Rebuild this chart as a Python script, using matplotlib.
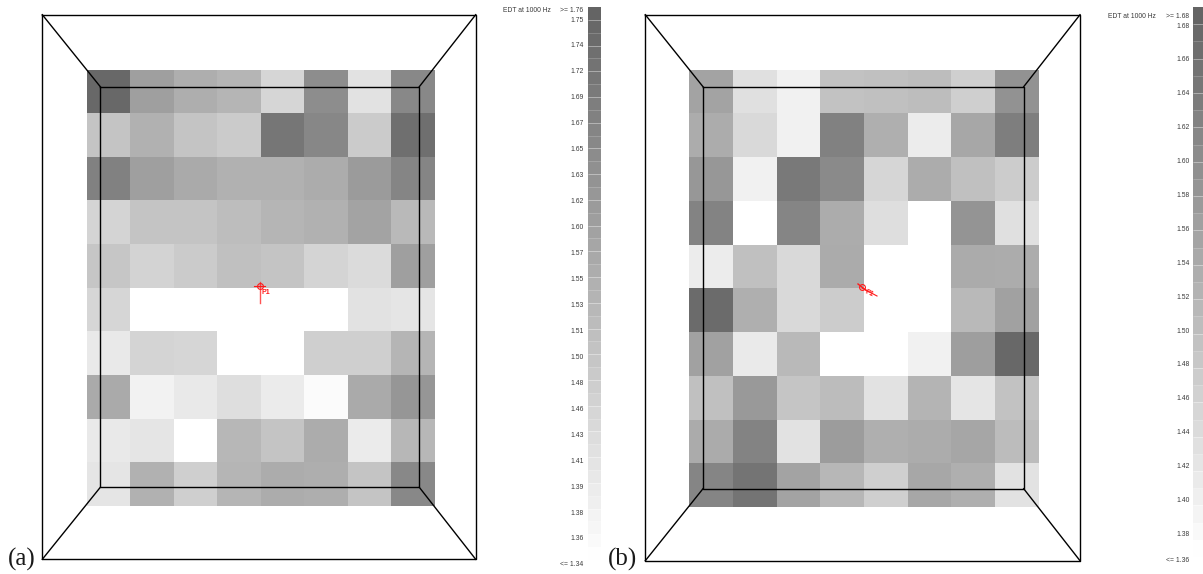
import numpy as np
import matplotlib
matplotlib.use("Agg")
import matplotlib.pyplot as plt
from matplotlib.colors import LinearSegmentedColormap, Normalize

W, H = 1203, 574

edt_a = [
    [1.75, 1.60, 1.56, 1.54, 1.45, 1.65, 1.42, 1.66],
    [1.50, 1.55, 1.50, 1.48, 1.71, 1.665, 1.48, 1.73],
    [1.68, 1.60, 1.57, 1.55, 1.55, 1.565, 1.61, 1.67],
    [1.455, 1.50, 1.50, 1.52, 1.54, 1.55, 1.59, 1.53],
    [1.495, 1.46, 1.48, 1.51, 1.50, 1.455, 1.44, 1.60],
    [1.45, 1.34, 1.34, 1.34, 1.34, 1.34, 1.42, 1.41],
    [1.40, 1.455, 1.45, 1.34, 1.34, 1.47, 1.47, 1.54],
    [1.57, 1.375, 1.40, 1.43, 1.395, 1.35, 1.57, 1.625],
    [1.40, 1.41, 1.34, 1.535, 1.50, 1.565, 1.395, 1.535],
    [1.41, 1.55, 1.47, 1.54, 1.565, 1.56, 1.50, 1.66],
]
edt_b = [
    [1.55, 1.425, 1.39, 1.485, 1.49, 1.495, 1.46, 1.585],
    [1.53, 1.44, 1.39, 1.62, 1.525, 1.40, 1.54, 1.625],
    [1.575, 1.39, 1.635, 1.60, 1.445, 1.53, 1.49, 1.465],
    [1.615, 1.36, 1.61, 1.53, 1.43, 1.36, 1.58, 1.425],
    [1.40, 1.49, 1.44, 1.535, 1.36, 1.36, 1.535, 1.53],
    [1.665, 1.525, 1.44, 1.465, 1.36, 1.36, 1.505, 1.555],
    [1.555, 1.405, 1.505, 1.36, 1.36, 1.39, 1.56, 1.67],
    [1.49, 1.57, 1.48, 1.50, 1.42, 1.515, 1.415, 1.485],
    [1.535, 1.615, 1.42, 1.565, 1.525, 1.53, 1.545, 1.50],
    [1.61, 1.645, 1.55, 1.51, 1.46, 1.54, 1.525, 1.42],
]
ticks_a = ["1.75", "1.74", "1.72", "1.69", "1.67", "1.65", "1.63", "1.62", "1.60", "1.57", "1.55",
           "1.53", "1.51", "1.50", "1.48", "1.46", "1.43", "1.41", "1.39", "1.38", "1.36"]
ticks_b = ["1.68", "1.66", "1.64", "1.62", "1.60", "1.58", "1.56", "1.54", "1.52", "1.50",
           "1.48", "1.46", "1.44", "1.42", "1.40", "1.38"]
range_a = (1.34, 1.76)
range_b = (1.36, 1.68)

cmap = LinearSegmentedColormap.from_list("edt", ["#ffffff", "#646464"])

fig = plt.figure(figsize=(W / 100, H / 100), dpi=100)
ax = fig.add_axes([0, 0, 1, 1])
ax.set_xlim(0, W)
ax.set_ylim(H, 0)
ax.axis("off")
FONT = "Liberation Sans"
LABEL_SIZE = 4.9


def room(outer, inner):
    (ol, or_, ot, ob), (il, ir, it, ib) = outer, inner
    kw = dict(color="black", lw=1.0, solid_capstyle="projecting", zorder=5)
    for l, r, t, b in (outer, inner):
        ax.plot([l, r, r, l, l], [t, t, b, b, t], **kw)
    for (x0, y0), (x1, y1) in [((ol, ot), (il, it)), ((or_, ot), (ir, it)),
                               ((ol, ob), (il, ib)), ((or_, ob), (ir, ib))]:
        ax.plot([x0, x1], [y0, y1], **kw)


def panel(values, vrange, heat, outer, inner):
    v = np.array(values)
    xe = np.linspace(heat[0], heat[1], v.shape[1] + 1)
    ye = np.linspace(heat[2], heat[3], v.shape[0] + 1)
    ax.pcolormesh(xe, ye, v, cmap=cmap, norm=Normalize(*vrange), zorder=2, antialiased=False)
    room(outer, inner)


def colorbar(vrange, ncells, x0, x1, y0, y1, labels, first_y, step, top_y, bottom_y, right, head_x):
    levels = np.linspace(vrange[1], vrange[0], ncells)[:, None]
    ye = np.linspace(y0, y1, ncells + 1)
    ax.pcolormesh([x0, x1], ye, levels, cmap=cmap,
                  norm=Normalize(vrange[0] - 0.01 * (vrange[1] - vrange[0]), vrange[1]),
                  zorder=2, antialiased=False)
    ax.hlines(ye[2:-1:2], x0, x1, color="white", lw=0.5, alpha=0.25, zorder=3)
    ax.hlines(ye[1:-1:2], x0, x1, color="white", lw=0.5, alpha=0.55, zorder=3)
    kw = dict(family=FONT, fontsize=LABEL_SIZE, color="#3a3a3a", ha="right", va="center", zorder=6)
    ax.text(right, top_y, f">= {vrange[1]:.2f}", **kw)
    ax.text(head_x, top_y, "EDT at 1000 Hz", **kw)
    for i, s in enumerate(labels):
        ax.text(right, first_y + i * step, s, **kw)
    ax.text(right, bottom_y, f"<= {vrange[0]:.2f}", **kw)


panel(edt_a, range_a, (86.7, 434.7, 69.5, 506), (42.3, 475.7, 14.7, 559.3), (100.3, 419.3, 86.7, 487.3))
panel(edt_b, range_b, (689.3, 1038.7, 69.7, 507), (645.3, 1080, 14.7, 560.7), (703, 1023.7, 86.7, 488.7))

colorbar(range_a, 43, 588, 600.5, 7, 560, ticks_a, 20, 25.95, 11, 564, 583.5, 551)
colorbar(range_b, 32, 1193, 1203, 7, 557, ticks_b, 26, 33.9, 16, 561, 1189.5, 1156)

red = "#ff1a1a"
# receiver P1, panel (a)
ax.plot(259.5, 286.3, "o", ms=4.2, mfc="none", mec=red, mew=0.8, zorder=7)
ax.plot([254, 265], [286.3, 286.3], color=red, lw=0.8, zorder=7)
ax.plot([259.5, 259.5], [282, 303], color=red, lw=1.0, alpha=0.75, zorder=7)
ax.text(261, 293, "P1", family=FONT, fontsize=5, fontweight="bold", color=red, va="center", zorder=7)
# receiver P1, panel (b)
ax.plot(862, 287, "o", ms=4.2, mfc="none", mec=red, mew=0.8, zorder=7)
ax.plot([858, 867], [284, 291], color=red, lw=1.0, zorder=7)
ax.plot([862, 877], [288, 296], color=red, lw=0.8, zorder=7)
ax.text(864, 293, "P1", family=FONT, fontsize=5, fontweight="bold", color=red, va="center", rotation=-25, zorder=7)

serif = dict(family="Liberation Serif", fontsize=18, color="#1a1a1a", va="baseline", ha="left")
ax.text(7.5, 566, "(a)", **serif)
ax.text(607.5, 566, "(b)", **serif)

fig.savefig("out.png", dpi=100)
